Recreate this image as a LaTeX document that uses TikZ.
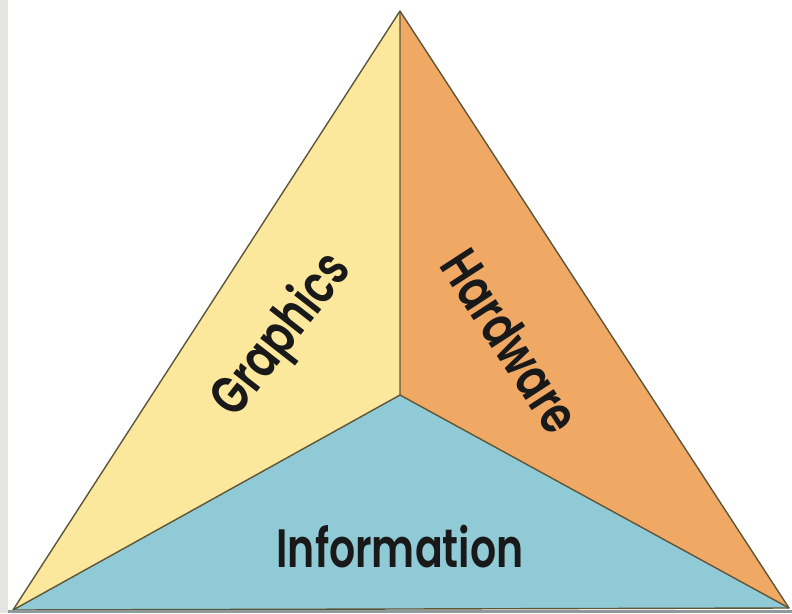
\documentclass[tikz,border=0pt]{standalone}
\usepackage{fontspec}
\setmainfont{Poppins}
\newfontfamily\lblfont{Poppins SemiBold}[FakeStretch=0.76]
\definecolor{ygold}{HTML}{FCE89C}
\definecolor{orng}{HTML}{F0A964}
\definecolor{lblue}{HTML}{8FCAD6}
\definecolor{edgec}{HTML}{5E5638}
\definecolor{strip}{HTML}{E5E4E0}
\definecolor{bstrip}{HTML}{8E9A9C}
\tikzset{
  face/.style={draw=edgec, line width=1.4pt, line join=round},
  lbl/.style={inner sep=0pt, font=\lblfont\fontsize{54}{54}\selectfont, text=black!90}
}
\begin{document}
\begin{tikzpicture}[x=1pt,y=-1pt]
\useasboundingbox (0,0) rectangle (792,613);
\fill[white] (0,0) rectangle (792,613);
\fill[strip] (0,0) rectangle (8,613);
\coordinate (T) at (400,11);
\coordinate (L) at (13,610);
\coordinate (R) at (789,608);
\coordinate (C) at (400,395);
\fill[ygold] (T) -- (C) -- (L) -- cycle;
\fill[orng] (T) -- (R) -- (C) -- cycle;
\fill[lblue] (L) -- (C) -- (R) -- cycle;
\draw[face] (T) -- (L) -- (R) -- cycle;
\draw[face] (T) -- (C) (L) -- (C) -- (R);
\fill[bstrip] (8,609.5) rectangle (792,613);
\node[lbl, rotate=52] (g) at (283,336) {Graphics};
\node[lbl, rotate=-57] (h) at (511,341) {Hardware};
\node[lbl] (i) at (400,547) {Information};
\end{tikzpicture}
\end{document}
